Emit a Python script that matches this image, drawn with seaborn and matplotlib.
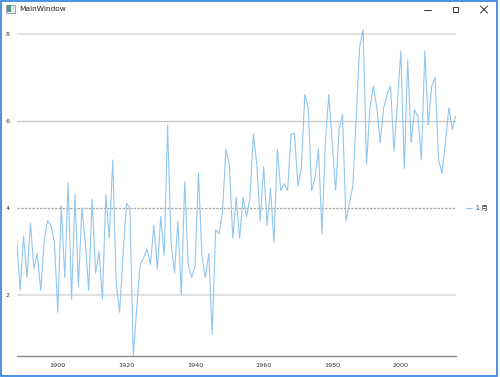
import matplotlib
matplotlib.use("Agg")
import matplotlib.pyplot as plt
from matplotlib.lines import Line2D
from matplotlib.patches import Rectangle
import seaborn as sns
import pandas as pd

years = list(range(1888, 2017))
values = [
    3.3, 2.1, 3.35, 2.4, 3.65, 2.6, 2.95, 2.1, 3.25, 3.7,
    3.6, 3.2, 1.6, 4.05, 2.4, 4.57, 1.9, 4.3, 2.2, 4.0,
    3.2, 2.1, 4.2, 2.5, 3.0, 1.9, 4.3, 3.3, 5.1, 2.3,
    1.6, 2.9, 4.1, 4.0, 0.6, 1.7, 2.7, 2.85, 3.05, 2.7,
    3.6, 2.6, 3.8, 2.9, 5.9, 3.2, 2.5, 3.7, 2.0, 4.6,
    2.7, 2.4, 2.65, 4.8, 2.9, 2.4, 2.95, 1.1, 3.5, 3.4,
    3.9, 5.35, 5.0, 3.3, 4.25, 3.3, 4.25, 3.8, 4.2, 5.7,
    5.0, 3.7, 4.95, 3.6, 4.45, 3.2, 5.35, 4.4, 4.55, 4.4,
    5.7, 5.7, 4.5, 4.9, 6.6, 6.3, 4.4, 4.7, 5.35, 3.4,
    5.5, 6.6, 5.5, 4.4, 5.8, 6.15, 3.7, 4.1, 4.5, 6.1,
    7.7, 8.1, 5.0, 6.3, 6.8, 6.3, 5.5, 6.3, 6.6, 6.8,
    5.3, 6.4, 7.6, 4.9, 7.4, 5.5, 6.25, 6.1, 5.1, 7.6,
    5.9, 6.8, 7.0, 5.1, 4.8, 5.5, 6.3, 5.8, 6.1,
]
series_name = "1 月"
x_ticks = [1900, 1920, 1940, 1960, 1980, 2000]
y_ticks = [2, 4, 6, 8]
window_title = "MainWindow"

df = pd.DataFrame({"year": years, "value": values})

sns.set_theme(style="white")
plt.rcParams["font.family"] = ["DejaVu Sans", "Noto Sans CJK JP"]

W, H = 500, 377
fig = plt.figure(figsize=(W / 100, H / 100), dpi=100)
fig.patch.set_facecolor("white")


def fx(x):
    return x / W


def fy(y):
    return 1 - y / H


left, right, top, bottom = 16.7, 455.7, 29.4, 355.7
ax = fig.add_axes([fx(left), fy(bottom), fx(right) - fx(left), fy(top) - fy(bottom)])
ax.set_facecolor("white")

sns.lineplot(data=df, x="year", y="value", ax=ax, color="#92c6ee",
             linewidth=0.8, label=series_name)

ax.set_xlim(min(years), max(years))
ax.set_ylim(min(values), max(values))
ax.set_xticks(x_ticks)
ax.set_yticks(y_ticks)
ax.set_xlabel("")
ax.set_ylabel("")

for s in ["top", "right", "left"]:
    ax.spines[s].set_visible(False)
ax.spines["bottom"].set_color("#8c8c8c")
ax.spines["bottom"].set_linewidth(1.0)

ax.tick_params(axis="x", direction="out", length=2.5, width=0.8, color="#777777",
               labelsize=4.6, labelcolor="#333333", pad=2.5)
ax.tick_params(axis="y", length=0, labelsize=4.6, labelcolor="#333333", pad=5)

ax.grid(axis="y", color="#dcdcdc", linewidth=1.2)
ax.set_axisbelow(True)
gl = ax.yaxis.get_gridlines()
for line, val in zip(gl, y_ticks):
    if val == 6:
        line.set_color("#c4c4c4")
        line.set_linewidth(0.9)
    elif val == 4:
        line.set_color("#a8a8a8")
        line.set_linewidth(0.9)
        line.set_linestyle((0, (2, 1)))

leg = ax.legend(loc="center left", bbox_to_anchor=(fx(465.5), fy(208)),
                bbox_transform=fig.transFigure, frameon=False,
                handlelength=1.0, handletextpad=0.6, borderpad=0, borderaxespad=0,
                prop={"family": ["Noto Sans CJK JP", "DejaVu Sans"], "size": 4.8})
for t in leg.get_texts():
    t.set_color("#333333")

# window chrome
fig.add_artist(Rectangle((fx(1), fy(375.5)), fx(496.5) - fx(1), fy(0.5) - fy(375.5),
                         transform=fig.transFigure, fill=False,
                         edgecolor="#2b7fe3", linewidth=1.2))
# icon
fig.add_artist(Rectangle((fx(6), fy(12.5)), fx(9), fy(4.5) - fy(12.5),
                         transform=fig.transFigure, facecolor="#e9ecef",
                         edgecolor="#8a9aa6", linewidth=0.6))
fig.add_artist(Rectangle((fx(6.5), fy(12)), fx(4), fy(5) - fy(12),
                         transform=fig.transFigure, facecolor="#4f9a8c",
                         edgecolor="none"))
fig.text(fx(19), fy(9.3), window_title, fontsize=5.3, color="#222222",
         ha="left", va="center")
# minimize
fig.add_artist(Line2D([fx(423.5), fx(430.5)], [fy(9.5), fy(9.5)],
                      transform=fig.transFigure, color="#333333", linewidth=0.7))
# maximize
fig.add_artist(Rectangle((fx(452.5), fy(12.3)), fx(5.8), fy(6.5) - fy(12.3),
                         transform=fig.transFigure, fill=False,
                         edgecolor="#333333", linewidth=0.7))
# close
fig.add_artist(Line2D([fx(480.5), fx(487.5)], [fy(6), fy(13)],
                      transform=fig.transFigure, color="#333333", linewidth=0.7))
fig.add_artist(Line2D([fx(480.5), fx(487.5)], [fy(13), fy(6)],
                      transform=fig.transFigure, color="#333333", linewidth=0.7))

fig.savefig("out.png", dpi=100, facecolor="white")
